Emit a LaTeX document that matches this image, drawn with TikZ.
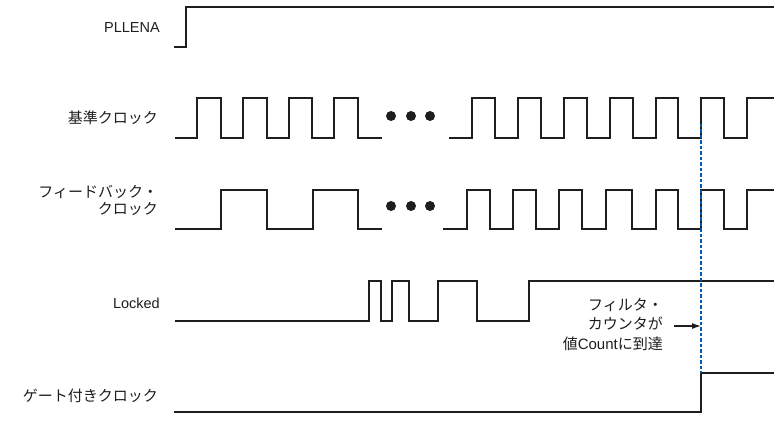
\documentclass[tikz,border=0pt]{standalone}
\usepackage{fontspec}
\setmainfont{Liberation Sans}
\newfontfamily\jpfont{Noto Sans CJK JP}
\usetikzlibrary{arrows.meta,positioning}
\definecolor{ink}{RGB}{30,30,30}
\definecolor{markblue}{RGB}{0,90,180}
\tikzset{
  timing/.style={
    sig/.style={draw=ink,line width=1.3pt,line join=miter},
    lbl/.style={font=\fontsize{14.5}{17}\selectfont,anchor=east,align=right,
                text=ink,inner sep=0pt},
    jplbl/.style={lbl,font=\fontsize{15}{17}\selectfont\jpfont},
    note/.style={font=\fontsize{15}{19.5}\selectfont\jpfont,anchor=east,align=right,
                 text=ink,inner sep=0pt},
    guide/.style={draw=markblue,line width=1.3pt,dash pattern=on 3.5pt off 2pt},
    ar/.style={-{Latex[length=9pt,width=6pt]},draw=ink,line width=1.1pt}},
  dot/.style={circle,fill=ink,inner sep=0pt,minimum size=10pt},
}

\begin{document}
\begin{tikzpicture}[timing,x=1pt,y=-1pt]
  \useasboundingbox (0,0) rectangle (774,430);
  % signal names
  \node[lbl] (pllena) at (160,28) {PLLENA};
  \node[jplbl] (refclk) at (158,118) {基準クロック};
  \node[jplbl] (fbclk) at (158,200) {フィードバック・\\クロック};
  \node[lbl] (locked) at (160,303) {Locked};
  \node[jplbl] (gateclk) at (158,396) {ゲート付きクロック};

  % PLLENA
  \draw[sig] (174,47) -- (186,47) -- (186,7) -- (774,7);

  % reference clock
  \draw[sig] (175,138) foreach \ru/\fa in {197/221,243/267,289/312,334/358}
    { -- (\ru,138) -- (\ru,98) -- (\fa,98) -- (\fa,138) } -- (382,138);
  \draw[sig] (449,138) foreach \ru/\fa in {472/495,518/541,564/587,610/633,656/678,701/724}
    { -- (\ru,138) -- (\ru,98) -- (\fa,98) -- (\fa,138) } -- (747,138) -- (747,98) -- (774,98);
  \foreach \x [count=\i] in {391,411,430}
    \node[dot] (rdot\i) at (\x,116) {};

  % feedback clock
  \draw[sig] (175,229) foreach \ru/\fa in {221/267,313/358}
    { -- (\ru,229) -- (\ru,190) -- (\fa,190) -- (\fa,229) } -- (382,229);
  \draw[sig] (443,229) foreach \ru/\fa in {467/490,513/536,559/582,606/632,656/678,701/724}
    { -- (\ru,229) -- (\ru,190) -- (\fa,190) -- (\fa,229) } -- (747,229) -- (747,190) -- (774,190);
  \foreach \a/\b in {536/552,582/599,632/647}
    \draw[sig,line width=2pt] (\a,229) -- (\b,229);
  \foreach \x [count=\i] in {391,411,430}
    \node[dot] (fdot\i) at (\x,206) {};

  % Locked
  \draw[sig] (175,321) foreach \ru/\fa in {369/381,392/409,438/477}
    { -- (\ru,321) -- (\ru,281) -- (\fa,281) -- (\fa,321) } -- (529,321) -- (529,281) -- (774,281);

  % gated clock
  \draw[sig] (174,412) -- (701,412) -- (701,373) -- (774,373);

  % lock point
  \coordinate (marktop) at (701,124);
  \coordinate (markbot) at (701,373);
  \draw[guide] (marktop) -- (markbot);
  \node[note] (filt) at (663,324)
    {フィルタ・\\カウンタが\\値{\fontspec{Liberation Sans}Count}に到達};
  \coordinate (hit) at (701,326);
  \draw[ar] (674,326) -- (hit);
\end{tikzpicture}
\end{document}
